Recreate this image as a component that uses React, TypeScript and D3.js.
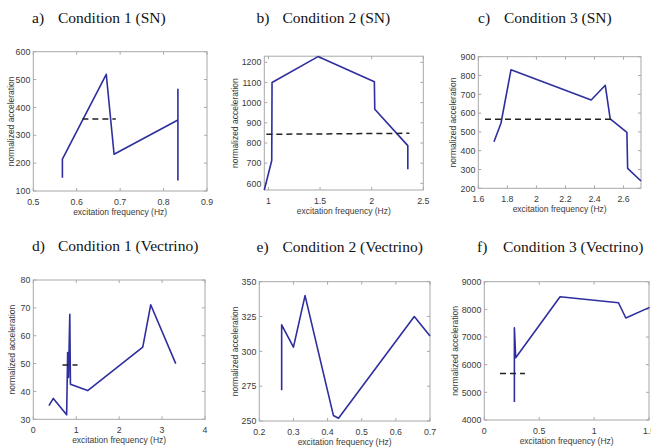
import React from 'react';
import * as d3 from 'd3';

// ---- data ----
const aFreq = [0.567, 0.567, 0.668, 0.686, 0.833, 0.833, 0.833];
const aAcc = [148, 214, 519, 232, 355, 465, 138];
const aMeanFreq = [0.613, 0.69];
const aMeanAcc = [358, 358];

const bFreq = [0.96, 1.032, 1.035, 1.48, 2.026, 2.03, 2.35, 2.35];
const bAcc = [567, 713, 1100, 1228, 1103, 967, 787, 670];
const bMeanFreq = [0.98, 2.365];
const bMeanAcc = [843, 848];

const cFreq = [1.708, 1.756, 1.825, 2.377, 2.474, 2.508, 2.623, 2.628, 2.72];
const cAcc = [448, 546, 830, 670, 748, 569, 498, 306, 239];
const cMeanFreq = [1.646, 2.54];
const cMeanAcc = [567, 567];

const dFreq = [0.365, 0.466, 0.777, 0.8, 0.82, 0.85, 0.865, 1.267, 2.55, 2.735, 3.318];
const dAcc = [34.9, 37.5, 31.6, 54, 45, 67.7, 42.6, 40.3, 55.9, 71.1, 50];
const dMeanFreq = [0.68, 1.03];
const dMeanAcc = [49.5, 49.5];

const eFreq = [0.2655, 0.2655, 0.3, 0.334, 0.417, 0.432, 0.654, 0.7];
const eAcc = [272, 319, 303, 340, 254, 252, 325, 311];

const fFreq = [0.274, 0.274, 0.286, 0.69, 1.222, 1.289, 1.505];
const fAcc = [4650, 7330, 6250, 8458, 8240, 7687, 8072];
const fMeanFreq = [0.143, 0.37];
const fMeanAcc = [5680, 5680];

const aXTicks = [0.5, 0.6, 0.7, 0.8, 0.9];
const aYTicks = [100, 200, 300, 400, 500, 600];
const bXTicks = [1, 1.5, 2, 2.5];
const bYTicks = [600, 700, 800, 900, 1000, 1100, 1200];
const cXTicks = [1.6, 1.8, 2, 2.2, 2.4, 2.6];
const cYTicks = [200, 300, 400, 500, 600, 700, 800, 900];
const dXTicks = [0, 1, 2, 3, 4];
const dYTicks = [30, 40, 50, 60, 70, 80];
const eXTicks = [0.2, 0.3, 0.4, 0.5, 0.6, 0.7];
const eYTicks = [250, 275, 300, 325, 350];
const fXTicks = [0, 0.5, 1, 1.5];
const fYTicks = [4000, 5000, 6000, 7000, 8000, 9000];

const letters = ['a)', 'b)', 'c)', 'd)', 'e)', 'f)'];
const titles = [
  'Condition 1 (SN)',
  'Condition 2 (SN)',
  'Condition 3 (SN)',
  'Condition 1 (Vectrino)',
  'Condition 2 (Vectrino)',
  'Condition 3 (Vectrino)',
];
const xLabel = 'excitation frequency (Hz)';
const yLabel = 'normalized acceleration';

type Panel = {
  letter: string;
  title: string;
  freq: number[];
  acc: number[];
  meanFreq?: number[];
  meanAcc?: number[];
  xDomain: [number, number];
  yDomain: [number, number];
  xTicks: number[];
  yTicks: number[];
  box: [number, number, number, number]; // left, right, top, bottom
  titleX: number;
  titleY: number;
  yLabelOff: number;
};

const panels: Panel[] = [
  { letter: letters[0], title: titles[0], freq: aFreq, acc: aAcc, meanFreq: aMeanFreq, meanAcc: aMeanAcc,
    xDomain: [0.5, 0.9], yDomain: [100, 600], xTicks: aXTicks, yTicks: aYTicks,
    box: [33.3, 207, 51.7, 191], titleX: 32, titleY: 23, yLabelOff: 22 },
  { letter: letters[1], title: titles[1], freq: bFreq, acc: bAcc, meanFreq: bMeanFreq, meanAcc: bMeanAcc,
    xDomain: [0.96, 2.5], yDomain: [567, 1230], xTicks: bXTicks, yTicks: bYTicks,
    box: [264.3, 423.3, 56.2, 190], titleX: 256.5, titleY: 23, yLabelOff: 29 },
  { letter: letters[2], title: titles[2], freq: cFreq, acc: cAcc, meanFreq: cMeanFreq, meanAcc: cMeanAcc,
    xDomain: [1.6, 2.72], yDomain: [200, 900], xTicks: cXTicks, yTicks: cYTicks,
    box: [478.3, 641, 56.7, 188.3], titleX: 478, titleY: 23, yLabelOff: 25 },
  { letter: letters[3], title: titles[3], freq: dFreq, acc: dAcc, meanFreq: dMeanFreq, meanAcc: dMeanAcc,
    xDomain: [0, 4], yDomain: [30, 80], xTicks: dXTicks, yTicks: dYTicks,
    box: [33.3, 205, 280, 419.3], titleX: 32, titleY: 250.5, yLabelOff: 21 },
  { letter: letters[4], title: titles[4], freq: eFreq, acc: eAcc,
    xDomain: [0.2, 0.7], yDomain: [250, 350], xTicks: eXTicks, yTicks: eYTicks,
    box: [259.3, 430, 281.7, 421], titleX: 256.5, titleY: 251.5, yLabelOff: 24 },
  { letter: letters[5], title: titles[5], freq: fFreq, acc: fAcc, meanFreq: fMeanFreq, meanAcc: fMeanAcc,
    xDomain: [0, 1.5], yDomain: [4000, 9000], xTicks: fXTicks, yTicks: fYTicks,
    box: [484.3, 649, 281.7, 420], titleX: 477, titleY: 251.5, yLabelOff: 29 },
];

const fmt = (v: number) => String(+v.toFixed(3));
const sans = "'Liberation Sans', Arial, sans-serif";
const serif = "'Liberation Serif', 'Times New Roman', serif";
const lineColor = '#2e2e9e';
const boxColor = '#a8a8a8';
const tickText = '#3a3a3a';

function PanelChart({ p }: { p: Panel }) {
  const [l, r, t, b] = p.box;
  const x = d3.scaleLinear().domain(p.xDomain).range([l, r]);
  const y = d3.scaleLinear().domain(p.yDomain).range([b, t]);
  const line = d3.line<number>().x((_, i) => x(p.freq[i])).y((d) => y(d));
  const meanLine = d3.line<number>().x((_, i) => x(p.meanFreq![i])).y((d) => y(d));
  const tl = 3;
  return (
    <g>
      <text x={p.titleX} y={p.titleY} fontFamily={serif} fontSize={15.5} fill="#111">{p.letter}</text>
      <text x={p.titleX + 26} y={p.titleY} fontFamily={serif} fontSize={15.5} fill="#111">{p.title}</text>
      <rect x={l} y={t} width={r - l} height={b - t} fill="white" stroke={boxColor} strokeWidth={1} />
      {p.xTicks.map((v) => (
        <g key={'x' + v}>
          <line x1={x(v)} x2={x(v)} y1={b} y2={b - tl} stroke={boxColor} />
          <line x1={x(v)} x2={x(v)} y1={t} y2={t + tl} stroke={boxColor} />
          <text x={x(v)} y={b + 13.5} textAnchor="middle" fontFamily={sans} fontSize={8.8} fill={tickText}>{fmt(v)}</text>
        </g>
      ))}
      {p.yTicks.map((v) => (
        <g key={'y' + v}>
          <line x1={l} x2={l + tl} y1={y(v)} y2={y(v)} stroke={boxColor} />
          <line x1={r} x2={r - tl} y1={y(v)} y2={y(v)} stroke={boxColor} />
          <text x={l - 3} y={y(v) + 3.2} textAnchor="end" fontFamily={sans} fontSize={8.8} fill={tickText}>{fmt(v)}</text>
        </g>
      ))}
      <text x={(l + r) / 2} y={b + 24} textAnchor="middle" fontFamily={sans} fontSize={8.5} fill={tickText}>{xLabel}</text>
      <text transform={`translate(${l - p.yLabelOff + 3},${(t + b) / 2}) rotate(-90)`} textAnchor="middle" fontFamily={sans} fontSize={8.5} fill={tickText}>{yLabel}</text>
      <path d={line(p.acc) || ''} fill="none" stroke={lineColor} strokeWidth={1.6} strokeLinejoin="round" />
      {p.meanFreq && p.meanAcc && (
        <path d={meanLine(p.meanAcc) || ''} fill="none" stroke="#222" strokeWidth={1.5} strokeDasharray="6,4" />
      )}
    </g>
  );
}

export default function App() {
  return (
    <svg width={651} height={447} style={{ position: 'absolute', left: 0, top: 0, background: 'white' }}>
      <rect width={651} height={447} fill="white" />
      {panels.map((p) => (
        <PanelChart key={p.letter} p={p} />
      ))}
    </svg>
  );
}
